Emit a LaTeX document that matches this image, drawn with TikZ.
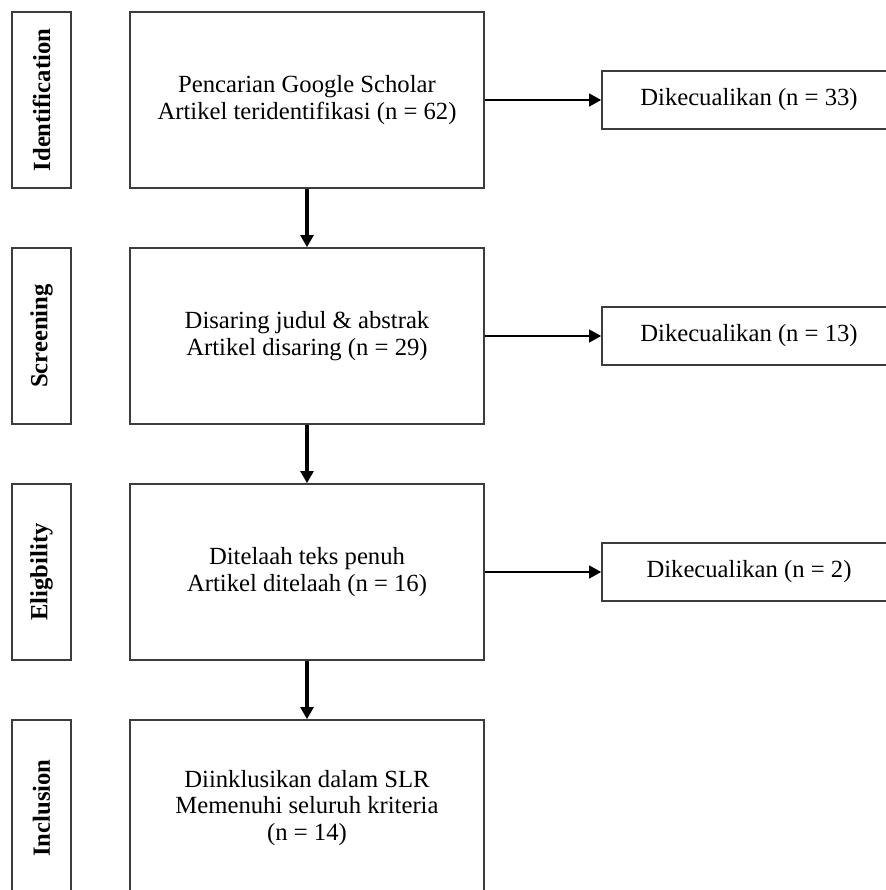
\documentclass[tikz,border=0pt]{standalone}
\usepackage{fontspec}
\setmainfont{Liberation Serif}
\usepackage{xcolor}
\usepackage{tikz}
\usetikzlibrary{calc,arrows.meta}
\definecolor{boxline}{HTML}{3C3C3C}

\begin{document}
\begin{tikzpicture}[x=0.75pt,y=-0.75pt,>={Triangle[length=9pt,width=9.5pt]},
    font=\fontsize{18.5}{20}\selectfont]
    \useasboundingbox (0,0) rectangle (886,890);
    \clip (0,0) rectangle (886,890);

    % Phase labels on the left
    \node (Phase0) at (41.5,100) [draw=boxline,line width=1.2pt,rotate=90,minimum width=132pt,minimum height=44.25pt] {\bfseries Identification};
    \node (Phase1) at (41.5,336) [draw=boxline,line width=1.2pt,rotate=90,minimum width=132pt,minimum height=44.25pt] {\bfseries Screening};
    \node (Phase2) at (41.5,572) [draw=boxline,line width=1.2pt,rotate=90,minimum width=132pt,minimum height=44.25pt] {\bfseries Eligbility};
    \node (Phase3) at (41.5,808) [draw=boxline,line width=1.2pt,rotate=90,minimum width=132pt,minimum height=44.25pt] {\bfseries Inclusion};

    % Main steps
    \node (Step0) at (307,100) [draw=boxline,line width=1.2pt,minimum width=265.5pt,minimum height=132pt,align=center] {Pencarian Google Scholar\\Artikel teridentifikasi (n = 62)};
    \node (Step1) at (307,336) [draw=boxline,line width=1.2pt,minimum width=265.5pt,minimum height=132pt,align=center] {Disaring judul \& abstrak\\Artikel disaring (n = 29)};
    \node (Step2) at (307,572) [draw=boxline,line width=1.2pt,minimum width=265.5pt,minimum height=132pt,align=center] {Ditelaah teks penuh\\Artikel ditelaah (n = 16)};
    \node (Step3) at (307,808) [draw=boxline,line width=1.2pt,minimum width=265.5pt,minimum height=132pt,align=center] {Diinklusikan dalam SLR\\Memenuhi seluruh kriteria\\(n = 14)};

    % Excluded records
    \node (Excl0) at (749,100) [draw=boxline,line width=1.2pt,minimum width=220.5pt,minimum height=43.5pt] {Dikecualikan (n = 33)};
    \node (Excl1) at (749,336) [draw=boxline,line width=1.2pt,minimum width=220.5pt,minimum height=43.5pt] {Dikecualikan (n = 13)};
    \node (Excl2) at (749,572) [draw=boxline,line width=1.2pt,minimum width=220.5pt,minimum height=43.5pt] {Dikecualikan (n = 2)};

    % Connect steps
    \def\p{0}
    \foreach \m in {1,2,3} {
      \draw [->,line width=3pt] (Step\p) -- (Step\m);
      \global\let\p\m
    }

    % Exclusions
    \foreach \m in {0,1,2}
      \draw [->,line width=1.5pt] (Step\m.east) -- (Excl\m.west);
\end{tikzpicture}
\end{document}
